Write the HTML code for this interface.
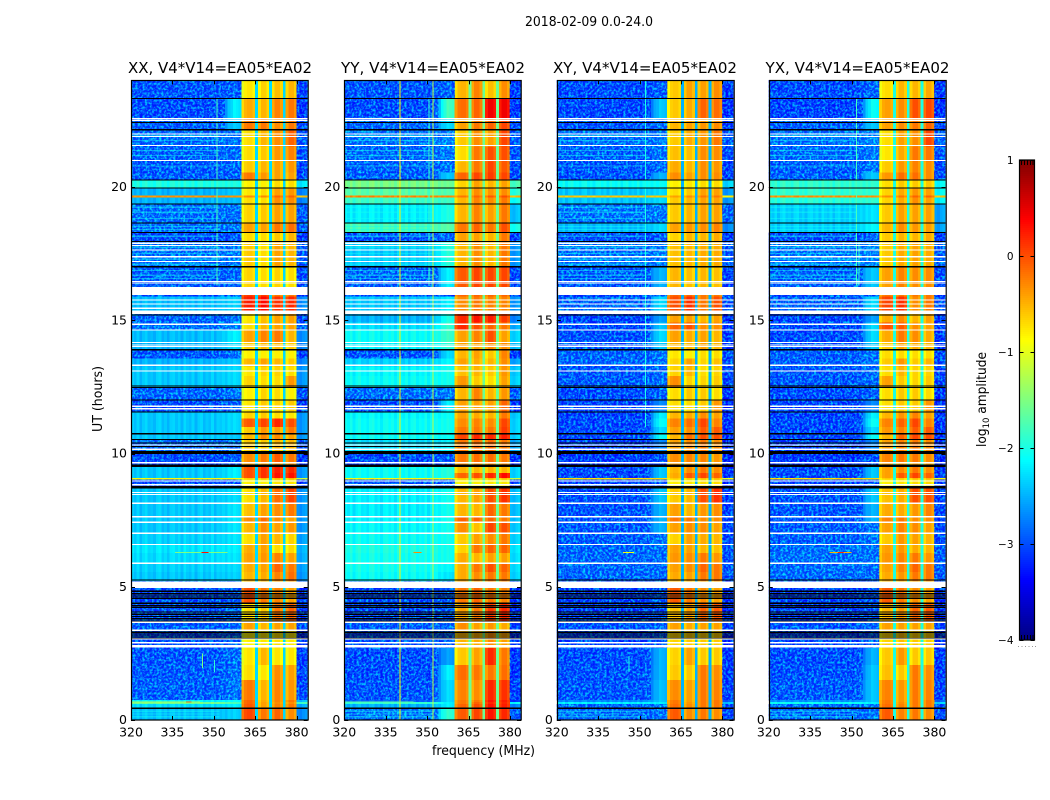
<!DOCTYPE html>
<html lang="en">
<head>
<meta charset="utf-8">
<title>2018-02-09 0.0-24.0</title>
<style>
html,body{margin:0;padding:0;background:#fff;}
svg{display:block;}
text{font-family:"DejaVu Sans","Liberation Sans",sans-serif;fill:#000;}
</style>
</head>
<body>
<svg id="figure" xmlns="http://www.w3.org/2000/svg" width="1050" height="800" viewBox="0 0 1050 800">
  <defs>
    <filter id="speckle" x="0" y="0" width="1" height="1" color-interpolation-filters="sRGB">
      <feTurbulence type="fractalNoise" baseFrequency="0.42" numOctaves="2" seed="4"/>
      <feColorMatrix type="matrix" values="0 0 0 0 0  3 0 0 0 -1.2  0 0 0 0 1  0 0 0 0 .6"/>
    </filter>
  </defs>
  <rect x="0" y="0" width="1050" height="800" fill="#fff"/>
  <text x="589" y="26" font-size="13" text-anchor="middle" textLength="128" lengthAdjust="spacingAndGlyphs">2018-02-09 0.0-24.0</text>
  <text x="483.5" y="755" font-size="13" text-anchor="middle" textLength="103" lengthAdjust="spacingAndGlyphs">frequency (MHz)</text>
  <text transform="translate(102,399) rotate(-90)" font-size="13" text-anchor="middle" textLength="66" lengthAdjust="spacingAndGlyphs">UT (hours)</text>
  <text transform="translate(986,399.5) rotate(-90)" font-size="13" text-anchor="middle" textLength="95" lengthAdjust="spacingAndGlyphs">log<tspan font-size="9" dy="3">10</tspan><tspan dy="-3"> amplitude</tspan></text>
  <g id="panels"></g>
  <g id="colorbar"></g>
</svg>
<script>
// ---- axis data ----
const frequencyTicks = [320, 335, 350, 365, 380];
const utTicks = [0, 5, 10, 15, 20];
const colorbarTicks = [1, 0, -1, -2, -3, -4];
const colorbarLabels = ['1', '0', '\u22121', '\u22122', '\u22123', '\u22124'];
const colorbarMinorTicks = [1021.5, 1024.5, 1027.5, 1030.5, 1033];
const colorbarDots = [1018, 1021.5, 1025, 1028.5, 1032, 1035];
const panelTitles = ['XX, V4*V14=EA05*EA02', 'YY, V4*V14=EA05*EA02', 'XY, V4*V14=EA05*EA02', 'YX, V4*V14=EA05*EA02'];

// ---- UT row edges (hours), top to bottom; each row below has one table line per interval ----
const utEdges = [24,23.30,22.55,22.14,21.52,20.96,20.55,20.25,19.95,19.69,19.61,19.35,18.64,18.28,17.96,17.00,16.24,15.90,15.35,14.92,14.62,14.17,13.87,13.57,13.27,12.90,12.49,12.00,11.55,11.32,10.99,10.72,10.50,10.01,9.64,9.49,9.26,9.08,9.02,8.70,8.14,7.61,7.42,7.01,6.60,6.26,5.89,5.55,5.21,4.95,4.39,3.67,3.34,2.70,2.06,1.50,0.75,0.67,0.60,0.45,0];

// ---- channel layout: 0 background, 1 ramp, 2-5 sub-bands, 6 gap, 7 upper edge ----
const channelKinds = [0,0,0,0,0,0,0,0,0,0,0,0,0,0,0,0,0,0,0,0,0,0,0,0,0,0,0,0,0,0,0,0,1,1,1,1,1,1,1,1,2,2,2,2,2,6,3,3,3,3,6,4,4,4,4,6,5,5,5,5,7,7,7,7];
const channelRipple = [.05,-.05,.08,-.1,.03,.1,-.04,0,-.08,.06,.1,-.06,.02,-.1,.05,.08,-.03,.06,-.08,.1,0,-.05,.07,-.1,.04,.09,-.07,.02,-.04,.1,-.08,.05,0,.05,-.05,.05,-.03,.05,0,-.05,-.15,.05,.1,.1,0,0,-.1,.1,.1,-.05,0,-.1,.1,.1,-.05,0,-.1,.1,.1,-.05,0,-.05,.05,.1];
const rampWeights = [.15,.3,.5,.7,.9,1,1,1];
const gapLevels = [-2.3, -1.6, -2.5, -2.0];

// ---- log10 amplitude per row: background, ramp, band1, band2, band3, band4 ----
const xxRows = [
[-2.9,-2.8,-.85,-.75,-.65,-.6],[-3.0,-2.2,-.55,-.6,-.35,-.3],[-2.8,-2.4,-.3,-.3,-.4,-.3],[-2.65,-2.5,-.8,-.6,-.4,-.2],[-2.75,-2.6,-.8,-.7,-.45,-.35],
[-2.85,-2.7,-.7,-.6,-.5,-.45],[-2.8,-2.7,-.3,-.45,-.5,-.5],[-2.0,-2.0,-.9,-.9,-.8,-.8],[-2.5,-2.4,-.85,-.8,-.5,-.45],[-.35,-.35,-.4,-.4,-.2,-.2],
[-2.5,-2.45,-.8,-.8,-.4,-.4],[-2.6,-2.55,-.75,-.7,-.5,-.5],[-2.6,-2.45,-.5,-.5,-.3,-.25],[-3.0,-2.9,-.8,-.8,-.7,-.6],[-2.6,-2.45,-.7,-.8,-.5,-.6],
[-2.8,-2.7,-.75,-.8,-.75,-.8],[-3,-3,0,0,-.3,-.3],[-2.45,-2.35,.15,.25,.05,.1],[-2.7,-2.5,-.85,-.65,-.5,-.5],[-2.55,-2.3,-.8,-.6,-.5,-.5],
[-2.45,-2.2,-.5,-.35,-.3,-.6],[-2.5,-2.3,-.7,-.6,-.6,-.7],[-2.9,-2.6,-.9,-.9,-.9,-.9],[-2.5,-2.4,-.6,-.5,-.6,-.7],[-2.4,-2.3,-.85,-.75,-.75,-.8],
[-2.4,-2.3,-.75,-.8,-.8,-.45],[-2.7,-2.5,-.9,-.75,-.8,-.9],[-3,-2.7,-.85,-.7,-.75,-.7],[-2.4,-2.3,-.75,-.7,-.8,-.85],[-2.4,-2.3,-.15,-.05,.1,-.1],
[-2.4,-2.3,-.7,-.45,-.5,-.3],[-2.4,-2.4,-.6,-.4,-.4,-.5],[-2.6,-2.5,-.7,-.7,-.6,-.6],[-3.0,-2.8,-.4,-.3,-.15,-.3],[-3.2,-3,-.5,-.5,-.4,-.4],
[-2.4,-2.2,-.1,.05,.15,.1],[-2.4,-2.2,-.1,.05,.2,.2],[-.9,-.9,-.7,-.6,-.6,-.6],[-3.0,-2.9,-.9,-.9,-.85,-.85],[-2.4,-2.3,-.8,-.6,-.25,-.05],
[-2.4,-2.25,-.65,-.5,-.4,-.3],[-2.4,-2.25,-.4,-.25,-.4,-.5],[-2.4,-2.25,-.6,-.4,-.5,-.45],[-2.35,-2.25,-.8,-.5,-.6,-.75],[-2.25,-2.2,-.55,-.5,-.8,-.8],
[-2.3,-2.25,-.5,-.45,-.35,-.5],[-2.35,-2.3,-.55,-.5,-.2,-.3],[-2.4,-2.35,-.6,-.55,-.35,-.25],[-2.6,-2.6,-.6,-.6,-.5,-.5],[-3.0,-2.8,-.1,-.3,-.35,-.5],
[-2.9,-2.7,-.8,-.7,-.3,-.2],[-2.8,-2.6,-.5,-.6,-.5,-.5],[-3.0,-2.8,-.9,-.85,-.8,-.85],[-2.9,-2.6,-.85,-.6,-.85,-.85],[-2.85,-2.6,-.8,-.85,-.4,-.5],
[-2.8,-2.5,-.3,-.6,-.35,-.45],[-2.2,-2.1,-.2,-.55,-.35,-.3],[-1.6,-1.8,-.2,-.5,-.4,-.4],[-2.3,-2.2,-.15,-.5,-.35,-.3],[-2.45,-2.35,-.05,-.3,-.2,-.4]
];
const yyRows = [
[-2.9,-2.7,-.6,-.35,-.65,-.4],[-3.0,-1.8,-.25,-.2,.35,.35],[-2.7,-2.3,-.5,-.3,-.2,-.05],[-2.55,-2.3,-.7,-.4,-.5,-.05],[-2.65,-2.4,-.8,-.3,-.1,-.1],
[-2.75,-2.5,-.6,-.3,-.05,-.15],[-2.75,-2.4,-.2,-.05,0,-.05],[-1.55,-1.6,-.75,-.5,-.6,-.5],[-1.7,-1.75,-.6,-.4,-.45,-.4],[-.3,-.3,-.3,-.2,-.15,-.1],
[-1.85,-1.85,-.6,-.35,-.4,-.3],[-2.2,-2.0,-.6,-.35,-.5,-.3],[-1.8,-1.7,-.3,-.2,-.3,-.1],[-2.9,-2.6,-.5,-.5,-.6,-.3],[-2.4,-1.95,-.6,-.4,-.6,-.3],
[-2.75,-2.2,-.15,-.05,-.05,-.05],[-3,-3,-.2,-.2,-.2,-.2],[-2.4,-2.2,-.4,-.3,-.35,-.35],[-2.5,-2.0,.1,.2,.15,0],[-2.3,-1.9,.1,-.1,-.2,-.3],
[-2.1,-1.85,-.5,-.35,-.1,-.5],[-2.2,-1.95,-.5,-.5,-.4,-.4],[-2.9,-2.3,-.6,-.5,-.7,-.35],[-2.35,-2.15,-.5,-.55,-.6,-.4],[-2.15,-2.05,-.65,-.6,-.7,-.45],
[-2.1,-2.05,-.45,-.7,-.8,-.5],[-2.6,-2.4,-.6,-.35,-.6,-.45],[-3,-2.2,-.5,-.5,-.5,-.2],[-2.15,-2.1,-.5,-.55,-.6,-.3],[-2.1,-2.05,-.4,-.35,-.4,-.05],
[-2.1,-2.05,-.3,-.3,-.3,0],[-2.1,-2.1,-.05,.1,.1,.15],[-2.3,-2.2,-.3,-.25,-.25,-.3],[-3.0,-2.8,-.3,-.25,-.25,-.3],[-3.2,-3,-.4,-.4,-.4,-.4],
[-2.1,-1.95,-.6,-.6,-.6,-.6],[-2.1,-1.95,-.2,-.1,.1,.25],[-.9,-.9,-.7,-.6,-.6,-.6],[-2.9,-2.8,-.9,-.9,-.85,-.85],[-2.2,-2.05,-.6,-.5,-.1,.05],
[-2.2,-2.05,-.6,-.6,-.2,-.3],[-2.2,-2.05,-.2,-.2,-.2,-.3],[-2.15,-2.05,-.4,-.65,-.05,-.1],[-2.1,-2.05,-.7,-.5,-.4,-.3],[-2.0,-2.05,-.75,-.3,-.2,-.2],
[-2.05,-2.05,-.55,-.6,-.5,-.5],[-2.05,-2.15,-.55,-.3,-.1,-.2],[-2.1,-2.25,-.55,-.4,-.3,-.3],[-2.6,-2.6,-.5,-.5,-.4,-.4],[-3.0,-2.8,-.3,-.2,-.3,-.35],
[-3.0,-2.8,-.5,-.3,0,.1],[-2.8,-2.6,-.4,-.5,-.45,-.55],[-3.0,-2.8,-.6,-.55,-.4,-.5],[-3.0,-2.6,-.7,-.5,.1,-.3],[-3.0,-2.2,-.25,-.3,-.3,-.25],
[-2.9,-2.3,-.35,-.4,.1,.05],[-2.9,-2.3,-.3,-.3,.2,.15],[-1.9,-2.2,-.3,-.2,.1,.1],[-2.5,-2.2,-.2,-.1,.2,.15],[-2.6,-1.9,-.15,-.05,.2,.1]
];
const xyRows = [
[-3.0,-2.8,-.7,-.5,-.5,-.4],[-3.05,-2.4,-.7,-.55,-.2,-.25],[-2.9,-2.6,-.6,-.5,-.45,-.4],[-2.6,-2.4,-.7,-.55,-.45,-.3],[-2.75,-2.5,-.65,-.65,-.4,-.4],
[-2.9,-2.6,-.55,-.6,-.4,-.45],[-2.9,-2.5,-.4,-.5,-.4,-.4],[-2.1,-2.1,-.9,-.85,-.8,-.8],[-2.4,-2.3,-.8,-.7,-.5,-.5],[-.6,-.6,-.5,-.4,-.3,-.3],
[-2.4,-2.3,-.7,-.6,-.5,-.5],[-2.55,-2.4,-.7,-.6,-.5,-.5],[-2.45,-2.3,-.5,-.45,-.4,-.35],[-3.0,-2.8,-.75,-.6,-.6,-.55],[-2.6,-2.4,-.65,-.6,-.55,-.55],
[-2.85,-2.5,-.6,-.65,-.6,-.65],[-3,-3,-.2,-.2,-.3,-.3],[-2.7,-2.3,-.1,.05,-.3,-.1],[-3.05,-2.6,-.5,-.5,-.6,-.5],[-3.0,-2.4,-.2,-.1,-.4,-.4],
[-2.95,-2.3,-.5,-.55,-.5,-.6],[-2.9,-2.4,-.6,-.6,-.5,-.6],[-2.75,-2.5,-.85,-.9,-.8,-.8],[-2.7,-2.5,-.75,-.5,-.75,-.65],[-2.85,-2.6,-.75,-.6,-.8,-.75],
[-2.85,-2.6,-.4,-.75,-.75,-.7],[-3.0,-2.7,-.8,-.7,-.7,-.8],[-3.1,-2.7,-.8,-.8,-.7,-.45],[-3.1,-2.2,-.6,-.55,-.4,-.5],[-3.05,-2.1,-.35,-.25,-.05,-.35],
[-3.05,-2.3,-.5,-.4,-.15,-.15],[-3.05,-2.1,-.6,-.25,-.1,-.1],[-3.1,-2.7,-.5,-.4,-.3,-.4],[-3.2,-2.9,-.4,-.35,-.35,-.45],[-3.3,-3,-.5,-.5,-.5,-.5],
[-3.05,-2.4,-.6,-.4,-.3,-.4],[-3.05,-2.4,-.55,-.15,-.05,-.2],[-.7,-.7,-.7,-.7,-.6,-.6],[-3.1,-2.9,-.9,-.85,-.8,-.8],[-2.95,-2.4,-.7,-.6,-.1,.05],
[-2.9,-2.5,-.5,-.6,-.45,-.4],[-2.9,-2.5,-.3,-.3,-.4,-.4],[-2.85,-2.5,-.5,-.4,-.4,-.5],[-2.8,-2.5,-.75,-.5,-.55,-.6],[-2.7,-2.5,-.5,-.5,-.6,-.65],
[-2.7,-2.6,-.45,-.4,-.3,-.45],[-2.65,-2.6,-.5,-.4,-.2,-.3],[-2.7,-2.7,-.55,-.5,-.3,-.3],[-2.9,-2.9,-.6,-.6,-.5,-.5],[-3.1,-2.9,-.15,-.3,-.4,-.5],
[-3.1,-2.9,-.65,-.5,-.2,-.15],[-2.9,-2.7,-.5,-.55,-.5,-.5],[-3.1,-2.9,-.75,-.7,-.7,-.7],[-3.0,-2.5,-.75,-.5,-.7,-.7],[-2.95,-2.5,-.7,-.7,-.3,-.4],
[-2.9,-2.45,-.4,-.5,-.3,-.35],[-2.7,-2.4,-.3,-.5,-.3,-.3],[-2.2,-2.2,-.3,-.45,-.3,-.3],[-2.7,-2.4,-.25,-.4,-.3,-.3],[-2.8,-2.5,-.15,-.4,-.3,-.4]
];
const yxRows = [
[-3.0,-2.7,-.8,-.6,-.6,-.55],[-3.1,-2.1,-.5,-.4,-.1,-.05],[-2.8,-2.4,-.5,-.4,-.3,-.2],[-2.55,-2.3,-.8,-.5,-.4,-.05],[-2.65,-2.4,-.85,-.55,-.3,-.3],
[-2.8,-2.5,-.7,-.45,-.35,-.4],[-2.75,-2.4,-.45,-.25,-.25,-.4],[-1.9,-1.9,-.8,-.7,-.7,-.7],[-1.9,-1.9,-.75,-.55,-.45,-.5],[-.35,-.35,-.4,-.3,-.2,-.2],
[-1.95,-1.9,-.75,-.55,-.4,-.5],[-2.35,-2.25,-.7,-.5,-.5,-.5],[-2.35,-2.15,-.6,-.4,-.45,-.5],[-2.95,-2.7,-.7,-.6,-.6,-.55],[-2.55,-2.25,-.7,-.55,-.5,-.55],
[-2.75,-2.4,-.5,-.35,-.4,-.4],[-3,-3,-.3,-.3,-.3,-.3],[-2.7,-2.3,-.05,.05,-.4,-.3],[-3.05,-2.6,-.55,-.4,-.6,-.5],[-3.0,-2.3,-.1,-.15,-.4,-.5],
[-3.0,-2.3,-.55,-.3,-.4,-.55],[-2.9,-2.4,-.7,-.5,-.55,-.6],[-2.8,-2.5,-.8,-.8,-.8,-.8],[-2.75,-2.5,-.7,-.45,-.7,-.6],[-2.85,-2.6,-.8,-.6,-.75,-.75],
[-2.85,-2.6,-.5,-.7,-.75,-.7],[-3.0,-2.7,-.8,-.7,-.7,-.8],[-3.1,-2.7,-.8,-.7,-.7,-.45],[-3.1,-2.2,-.6,-.45,-.35,-.5],[-3.05,-2.1,-.35,-.2,-.05,-.35],
[-3.05,-2.3,-.45,-.35,-.15,-.15],[-3.05,-2.1,-.6,-.2,-.05,-.1],[-3.1,-2.7,-.5,-.35,-.3,-.4],[-3.2,-2.9,-.35,-.3,-.3,-.4],[-3.3,-3,-.5,-.5,-.5,-.5],
[-3.0,-2.4,-.5,-.4,-.3,-.4],[-3.0,-2.4,-.5,-.15,-.05,-.2],[-.7,-.7,-.7,-.7,-.6,-.6],[-3.1,-2.9,-.9,-.85,-.8,-.8],[-2.9,-2.4,-.65,-.55,-.1,-.1],
[-2.85,-2.5,-.55,-.55,-.45,-.35],[-2.85,-2.5,-.35,-.3,-.4,-.4],[-2.8,-2.5,-.5,-.35,-.4,-.5],[-2.75,-2.5,-.7,-.45,-.5,-.6],[-2.6,-2.5,-.5,-.45,-.55,-.6],
[-2.6,-2.55,-.45,-.35,-.3,-.45],[-2.6,-2.6,-.5,-.35,-.2,-.3],[-2.65,-2.65,-.55,-.45,-.3,-.3],[-2.9,-2.9,-.6,-.6,-.5,-.5],[-3.1,-2.9,-.15,-.3,-.4,-.5],
[-3.1,-2.9,-.6,-.45,-.2,-.15],[-2.9,-2.7,-.5,-.5,-.5,-.5],[-3.1,-2.9,-.75,-.65,-.7,-.7],[-3.0,-2.5,-.7,-.45,-.7,-.7],[-2.95,-2.4,-.65,-.7,-.3,-.4],
[-2.85,-2.4,-.35,-.45,-.3,-.35],[-2.65,-2.4,-.3,-.45,-.3,-.3],[-2.1,-2.2,-.3,-.4,-.3,-.3],[-2.65,-2.4,-.25,-.35,-.3,-.3],[-2.75,-2.5,-.15,-.35,-.3,-.4]
];
const panelRows = [xxRows, yyRows, xyRows, yxRows];

// ---- narrow features: [frequency MHz, UT low, UT high, log10 amplitude] ----
const xxLines = [[351,16.3,23.3,-1.8],[345.7,1.95,2.5,-1.5],[350,1.8,2.25,-1.9]];
const yyLines = [[340,0,24,-.8],[352,0,24,-1.2],[350.5,16.3,23.3,-1.9]];
const xyLines = [[352,11,24,-2.0],[346,1.8,2.4,-2.0]];
const yxLines = [[351.5,16.3,23.3,-1.8],[352.5,16.3,18,-1.9]];
const panelLines = [xxLines, yyLines, xyLines, yxLines];

// ---- RFI streaks: [frequency low, frequency high, UT, log10 amplitude] ----
const xxStreaks = [[336,355,6.28,-1.5],[345.5,348,6.28,.3],[320,345,.67,-1.3],[340,342,.67,-.2]];
const yyStreaks = [[345,348,6.28,-.3],[320,345,.67,-1.7]];
const xyStreaks = [[344,348,6.28,-.9]];
const yxStreaks = [[342,350,6.28,-.5],[345,347,6.28,.2]];
const panelStreaks = [xxStreaks, yyStreaks, xyStreaks, yxStreaks];

// ---- faint horizontal background streaks, UT hours ----
const faintStreakUT = [21.93,21.75,21.37,21.18,20.79,19.24,19.05,18.82,18.52,18.41,18.15,17.74,17.51,17.29,17.10,16.87,16.69,16.57,0.33,0.22,0.12];
const faintStreakLevel = -2.05;

// ---- flagged (white) and zero-amplitude (black) integrations, UT hours ----
const flaggedUT = [22.56,22.50,21.99,21.89,21.56,20.99,17.89,17.81,17.64,17.38,17.21,16.45,16.40,15.76,15.61,15.45,14.85,14.63,14.16,14.07,14.01,13.31,13.10,11.77,11.68,10.32,10.16,9.65,8.97,8.83,8.54,8.46,8.13,7.63,7.42,7.01,6.59,5.88,3.67,3.37,3.04,2.90,2.80,2.75];
const flaggedBlockLow = [15.94,15.24,4.96];
const flaggedBlockHigh = [16.24,15.36,5.19];
const zeroUT = [23.32,22.42,22.15,20.26,19.96,19.36,18.65,18.29,17.96,17.01,15.20,13.89,12.53,12.48,12.01,11.56,10.74,10.53,10.39,10.26,10.07,10.04,10.01,9.57,9.54,9.51,8.76,8.73,8.70,5.25,4.83,4.74,4.65,4.57,4.38,4.30,4.23,4.05,3.97,3.88,3.80,3.71,3.29,3.23,3.15,3.07,0.44];

// ---- layout ----
const panelLeft = [131, 344.3, 556.8, 768.8];
const panelWidth = 176.7;
const plotTop = 80.4, plotBottom = 720;
const freqMin = 320, freqMax = 384, utMin = 0, utMax = 24, levelMin = -4, levelMax = 1;
const speckleThreshold = -2.55;
const titleCenters = [220, 433, 645, 857.5];
const NS = 'http://www.w3.org/2000/svg';

function yScale(ut) { return plotBottom - (ut - utMin) / (utMax - utMin) * (plotBottom - plotTop); }
function xScale(f, p) { return panelLeft[p] + (f - freqMin) / (freqMax - freqMin) * panelWidth; }
function clip(v) { return Math.max(0, Math.min(1, v)); }
function jet(level) {
  const t = clip((level - levelMin) / (levelMax - levelMin));
  const r = clip(Math.min(4 * t - 1.5, -4 * t + 4.5));
  const g = clip(Math.min(4 * t - 0.5, -4 * t + 3.5));
  const b = clip(Math.min(4 * t + 0.5, -4 * t + 2.5));
  return 'rgb(' + Math.round(r * 255) + ',' + Math.round(g * 255) + ',' + Math.round(b * 255) + ')';
}
function makeRect(parent, x, y, w, h, fill) {
  const el = document.createElementNS(NS, 'rect');
  el.setAttribute('x', x);
  el.setAttribute('y', y);
  el.setAttribute('width', w);
  el.setAttribute('height', h);
  el.setAttribute('fill', fill);
  el.setAttribute('shape-rendering', 'crispEdges');
  parent.appendChild(el);
  return el;
}
function makeLine(parent, x1, y1, x2, y2) {
  const el = document.createElementNS(NS, 'line');
  el.setAttribute('x1', x1);
  el.setAttribute('y1', y1);
  el.setAttribute('x2', x2);
  el.setAttribute('y2', y2);
  el.setAttribute('stroke', '#000');
  el.setAttribute('stroke-width', '1');
  parent.appendChild(el);
  return el;
}
function makeText(parent, x, y, size, anchor, content) {
  const el = document.createElementNS(NS, 'text');
  el.setAttribute('x', x);
  el.setAttribute('y', y);
  el.setAttribute('font-size', size);
  el.setAttribute('text-anchor', anchor);
  el.textContent = content;
  parent.appendChild(el);
  return el;
}
function cellLevel(row, channel, gap) {
  const kind = channelKinds[channel];
  const ripple = channelRipple[channel];
  if (kind === 0) return row[0] + ripple;
  if (kind === 1) return row[0] + (row[1] - row[0]) * rampWeights[channel - 32] + ripple;
  if (kind === 6) return gap;
  if (kind === 7) return row[0] - 0.25 + ripple;
  return row[kind] + ripple;
}

const panelsRoot = document.getElementById('panels');
panelTitles.forEach(function (title, p) {
  const group = document.createElementNS(NS, 'g');
  
  
  panelsRoot.appendChild(group);
  const left = panelLeft[p], right = left + panelWidth;

  // heatmap cells
  panelRows[p].forEach(function (row, r) {
    const y0 = yScale(utEdges[r]), y1 = yScale(utEdges[r + 1]);
    channelKinds.forEach(function (kind, c) {
      const x0 = xScale(freqMin + c, p), x1 = xScale(freqMin + c + 1, p);
      const cell = makeRect(group, x0, y0, x1 - x0, y1 - y0, jet(cellLevel(row, c, gapLevels[p])));
      
      
    });
    // receiver-noise grain over quiet rows, stopping short of any strong ramp
    if (row[0] <= speckleThreshold && y1 - y0 > 3) {
      const grainEnd = row[1] - row[0] < 0.35 ? 360 : 354;
      const grain = makeRect(group, left, y0, xScale(grainEnd, p) - left, y1 - y0, '#00f');
      grain.setAttribute('filter', 'url(#speckle)');
      
      
      const edgeGrain = makeRect(group, xScale(380, p), y0, xScale(384, p) - xScale(380, p), y1 - y0, '#00f');
      edgeGrain.setAttribute('filter', 'url(#speckle)');
      
      
    }
  });

  // faint horizontal streaks
  faintStreakUT.forEach(function (ut) {
    const streak = makeRect(group, left, yScale(ut) - 0.6, xScale(352, p) - left, 1.2, jet(faintStreakLevel));
    streak.setAttribute('fill-opacity', '0.45');
    
    
  });

  // narrow vertical features
  panelLines[p].forEach(function (feature) {
    const x = xScale(feature[0], p), yA = yScale(feature[2]), yB = yScale(feature[1]);
    const mark = makeRect(group, x, yA, 1, yB - yA, jet(feature[3]));
    
    
  });

  // RFI streaks
  panelStreaks[p].forEach(function (streak) {
    const x0 = xScale(streak[0], p), x1 = xScale(streak[1], p);
    const mark = makeRect(group, x0, yScale(streak[2]) - 0.6, x1 - x0, 1.2, jet(streak[3]));
    
    
  });

  // zero-amplitude rows
  zeroUT.forEach(function (ut) {
    const mark = makeRect(group, left, yScale(ut) - 0.6, panelWidth, 1.2, '#000');
    
    
  });

  // flagged rows and blocks
  flaggedUT.forEach(function (ut) {
    const mark = makeRect(group, left, yScale(ut) - 0.6, panelWidth, 1.2, '#fff');
    
    
  });
  flaggedBlockLow.forEach(function (low, i) {
    const yA = yScale(flaggedBlockHigh[i]), yB = yScale(low);
    const mark = makeRect(group, left, yA, panelWidth, yB - yA, '#fff');
    
    
  });

  // frame
  const frame = document.createElementNS(NS, 'rect');
  frame.setAttribute('x', Math.round(left) + 0.5);
  frame.setAttribute('y', 80.5);
  frame.setAttribute('width', panelWidth);
  frame.setAttribute('height', 639.5);
  frame.setAttribute('fill', 'none');
  frame.setAttribute('stroke', '#000');
  frame.setAttribute('stroke-width', '1.2');
  
  
  group.appendChild(frame);

  // x ticks
  frequencyTicks.forEach(function (f) {
    const x = Math.round(xScale(f, p)) + 0.5;
    const low = makeLine(group, x, plotBottom, x, plotBottom - 4);
    
    
    const high = makeLine(group, x, plotTop, x, plotTop + 4);
    
    
    const label = makeText(group, xScale(f, p), 736.5, 12.5, 'middle', String(f));
    
    
  });

  // y ticks
  utTicks.forEach(function (ut) {
    const y = Math.round(yScale(ut)) + 0.5;
    const near = makeLine(group, left, y, left + 4, y);
    
    
    const far = makeLine(group, right, y, right - 4, y);
    
    
    const label = makeText(group, left - 4, yScale(ut) + 4, 12.5, 'end', String(ut));
    
    
  });

  // title
  const heading = makeText(group, titleCenters[p], 73, 15.5, 'middle', title);
  heading.setAttribute('textLength', '184');
  heading.setAttribute('lengthAdjust', 'spacingAndGlyphs');
  
  
});

// ---- colorbar ----
const barRoot = document.getElementById('colorbar');
const barLeft = 1019.5, barRight = 1034.5, barTop = 160, barBottom = 640;
function barY(level) { return barBottom - (level - levelMin) / (levelMax - levelMin) * (barBottom - barTop); }
for (let py = barTop; py < barBottom; py += 2) {
  const level = levelMin + (barBottom - py - 1) / (barBottom - barTop) * (levelMax - levelMin);
  const swatch = makeRect(barRoot, barLeft, py, barRight - barLeft, 2, jet(level));
  
  
}
const barFrame = document.createElementNS(NS, 'rect');
barFrame.setAttribute('x', barLeft);
barFrame.setAttribute('y', barTop);
barFrame.setAttribute('width', barRight - barLeft);
barFrame.setAttribute('height', barBottom - barTop);
barFrame.setAttribute('fill', 'none');
barFrame.setAttribute('stroke', '#000');
barFrame.setAttribute('stroke-width', '1.2');


barRoot.appendChild(barFrame);
colorbarTicks.forEach(function (level, i) {
  const y = Math.round(barY(level)) + 0.5;
  const near = makeLine(barRoot, barLeft, y, barLeft + 4, y);
  
  
  const far = makeLine(barRoot, barRight, y, barRight - 4, y);
  
  
  const label = makeText(barRoot, barLeft - 6, barY(level) + 4, 10.5, 'end', colorbarLabels[i]);
  
  
});
colorbarMinorTicks.forEach(function (x) {
  const top = makeLine(barRoot, x, barTop, x, barTop + 5);
  
  
  const bottom = makeLine(barRoot, x, barBottom, x, barBottom - 5);
  
  
});
colorbarDots.forEach(function (x) {
  const dot = makeRect(barRoot, x, 646, 1, 1, '#999');
  
  
});
</script>
</body>
</html>
